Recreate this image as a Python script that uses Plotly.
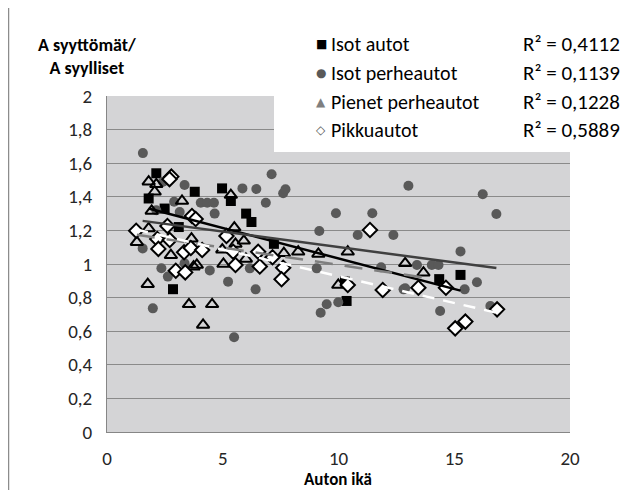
import plotly.graph_objects as go

# ---------------- data ----------------
series_names = ["Isot autot", "Isot perheautot", "Pienet perheautot", "Pikkuautot"]
r2_labels = ["R² = 0,4112", "R² = 0,1139", "R² = 0,1228", "R² = 0,5889"]

isot_autot_x = [2.13, 1.80, 3.79, 4.97, 5.35, 6.01, 6.24, 2.49, 3.10, 2.85, 7.21, 10.35, 10.28, 14.35, 15.27]
isot_autot_y = [1.54, 1.39, 1.43, 1.45, 1.375, 1.30, 1.25, 1.33, 1.22, 0.85, 1.12, 0.78, 0.895, 0.91, 0.935]

isot_perhe_x = [1.55, 2.42, 3.35, 5.85, 6.45, 2.90, 4.05, 4.33, 4.62, 4.65, 2.13, 3.14, 1.54, 2.35, 2.63,
                4.44, 5.23, 3.35, 1.98, 5.49, 6.42, 6.17, 7.11, 7.61, 7.71, 6.86, 9.89, 11.46, 9.17, 10.83,
                12.37, 13.02, 9.06, 11.84, 12.81, 9.49, 9.99, 9.23, 16.23, 16.82, 15.27, 13.39, 14.03, 14.32,
                12.88, 15.98, 15.45, 14.39, 16.56]
isot_perhe_y = [1.66, 1.49, 1.47, 1.45, 1.446, 1.371, 1.365, 1.365, 1.365, 1.30, 1.32, 1.31, 1.093, 0.975, 0.925,
                0.962, 0.895, 1.004, 0.736, 0.564, 0.849, 0.974, 1.534, 1.421, 1.445, 1.365, 1.302, 1.302, 1.196, 1.173,
                1.173, 1.466, 0.974, 0.98, 0.849, 0.76, 0.772, 0.71, 1.415, 1.298, 1.075, 0.994, 0.994, 0.994,
                0.855, 0.891, 0.849, 0.72, 0.75]

pienet_x = [1.80, 2.13, 2.06, 3.24, 5.35, 1.93, 5.50, 1.80, 1.29, 3.65, 2.76, 5.91, 5.55, 4.98, 6.0,
            5.03, 3.88, 3.74, 1.76, 3.54, 4.54, 4.15, 7.64, 8.26, 9.13, 10.40, 12.88, 9.99, 13.67]
pienet_y = [1.49, 1.474, 1.43, 1.375, 1.41, 1.316, 1.217, 1.212, 1.13, 1.151, 1.052, 1.138, 1.119, 1.085, 1.03,
            1.0, 0.994, 0.984, 0.88, 0.76, 0.76, 0.637, 1.064, 1.073, 1.06, 1.073, 1.004, 0.875, 0.948]

pikku_x = [2.78, 2.70, 3.67, 3.83, 2.61, 1.26, 2.17, 2.71, 2.22, 5.16, 3.33, 3.62, 4.11, 2.97, 3.38,
           5.45, 5.55, 6.53, 6.6, 7.15, 7.61, 7.54, 10.40, 11.91, 11.36, 13.45, 14.64, 16.85, 15.48, 15.04]
pikku_y = [1.52, 1.505, 1.286, 1.268, 1.226, 1.198, 1.149, 1.143, 1.09, 1.167, 1.07, 1.095, 1.083, 0.96, 0.95,
           1.073, 0.994, 1.073, 0.985, 1.04, 0.978, 0.909, 0.875, 0.845, 1.202, 0.859, 0.859, 0.73, 0.657, 0.617]

# linear trendlines: intercept, slope, x-extent
trend_intercepts = [1.396, 1.285, 1.200, 1.245]
trend_slopes = [-0.0363, -0.0184, -0.0205, -0.0318]
trend_x_start = [1.80, 1.54, 1.29, 1.26]
trend_x_end = [15.27, 16.82, 13.67, 16.85]

x_tick_vals = [0, 5, 10, 15, 20]
x_tick_text = ["0", "5", "10", "15", "20"]
y_tick_vals = [0, 0.2, 0.4, 0.6, 0.8, 1.0, 1.2, 1.4, 1.6, 1.8, 2.0]
y_tick_text = ["0", "0,2", "0,4", "0,6", "0,8", "1", "1,2", "1,4", "1,6", "1,8", "2"]

# ---------------- figure ----------------
FONT = "Carlito, Lato, sans-serif"
OFF = 8  # page body margin of the html page
W, H = 629 - OFF, 490 - OFF
ML, MR, MT, MB = 107 - OFF, 59, 96 - OFF, 58
PW, PH = W - ML - MR, H - MT - MB


def px_x(p):
    # p: pixel x position in the final (page) picture
    return (p - OFF - ML) / PW


def px_y(p):
    return (H - MB - (p - OFF)) / PH


fig = go.Figure()

fig.add_trace(go.Scatter(x=isot_autot_x, y=isot_autot_y, mode="markers", name=series_names[0],
                         marker=dict(symbol="square", size=10, color="#000000", line=dict(width=0))))
fig.add_trace(go.Scatter(x=isot_perhe_x, y=isot_perhe_y, mode="markers", name=series_names[1],
                         marker=dict(symbol="circle", size=10, color="#595959", line=dict(width=0))))
fig.add_trace(go.Scatter(x=pienet_x, y=pienet_y, mode="markers", name=series_names[2],
                         marker=dict(symbol="triangle-up-open", size=11, color="#000000", line=dict(width=2))))
fig.add_trace(go.Scatter(x=pikku_x, y=pikku_y, mode="markers", name=series_names[3],
                         marker=dict(symbol="diamond", size=11, color="#ffffff",
                                     line=dict(width=2, color="#000000"))))

trend_styles = [
    dict(color="#000000", width=2.5, dash="solid"),
    dict(color="#404040", width=2.5, dash="solid"),
    dict(color="#7f7f7f", width=2.5, dash="18px,12px"),
    dict(color="#ffffff", width=2.5, dash="12px,9px"),
]
for i in range(4):
    xs = [trend_x_start[i], trend_x_end[i]]
    ys = [trend_intercepts[i] + trend_slopes[i] * v for v in xs]
    fig.add_trace(go.Scatter(x=xs, y=ys, mode="lines", line=trend_styles[i],
                             showlegend=False, hoverinfo="skip"))

shapes = [
    # white legend box covering upper right part of the plot area
    dict(type="rect", xref="paper", yref="paper", x0=px_x(274), x1=1.0, y0=px_y(152), y1=1.0,
         fillcolor="#ffffff", line=dict(width=0), layer="above"),
    # outer chart frame (left edge)
    dict(type="line", xref="paper", yref="paper", x0=px_x(8), x1=px_x(8), y0=px_y(500), y1=px_y(0),
         line=dict(color="#8c8c8c", width=2.5)),
]

annotations = [
    dict(text="<b>A syyttömät/</b><br><b>A syylliset</b>", xref="paper", yref="paper",
         x=px_x(87), y=px_y(57), xanchor="center", yanchor="middle", showarrow=False,
         font=dict(family=FONT, size=18, color="#000000"), align="center"),
    dict(text="<b>Auton ikä</b>", xref="paper", yref="paper", x=px_x(338), y=px_y(479),
         xanchor="center", yanchor="middle", showarrow=False,
         font=dict(family=FONT, size=17, color="#000000")),
]

legend_rows = [44, 73, 102, 130]
legend_glyphs = ["■", "●", "▲", "◇"]
legend_glyph_colors = ["#000000", "#595959", "#7f7f7f", "#595959"]
for i in range(4):
    annotations.append(dict(text=legend_glyphs[i], xref="paper", yref="paper", x=px_x(321), y=px_y(legend_rows[i]),
                            xanchor="center", yanchor="middle", showarrow=False,
                            font=dict(family="DejaVu Sans", size=12, color=legend_glyph_colors[i])))
    annotations.append(dict(text=series_names[i], xref="paper", yref="paper", x=px_x(329), y=px_y(legend_rows[i]),
                            xanchor="left", yanchor="middle", showarrow=False,
                            font=dict(family=FONT, size=20, color="#000000")))
    annotations.append(dict(text=r2_labels[i], xref="paper", yref="paper", x=px_x(521), y=px_y(legend_rows[i]),
                            xanchor="left", yanchor="middle", showarrow=False,
                            font=dict(family=FONT, size=21, color="#000000")))

fig.update_layout(
    width=W, height=H, autosize=False,
    margin=dict(l=ML, r=MR, t=MT, b=MB, pad=0),
    paper_bgcolor="#ffffff", plot_bgcolor="#d4d4d6",
    showlegend=False,
    shapes=shapes, annotations=annotations,
    font=dict(family=FONT, size=19, color="#262626"),
)
fig.update_xaxes(range=[0, 20], tickvals=x_tick_vals, ticktext=x_tick_text, showgrid=False, zeroline=False,
                 showline=True, linecolor="#868686", linewidth=1, ticks="", ticklabelstandoff=9,
                 tickfont=dict(family=FONT, size=19, color="#262626"))
fig.update_yaxes(range=[0, 2], tickvals=y_tick_vals, ticktext=y_tick_text, showgrid=True, gridcolor="#8a8a8a",
                 gridwidth=1, zeroline=False, showline=True, linecolor="#868686", linewidth=1, ticks="",
                 ticklabelstandoff=10, tickfont=dict(family=FONT, size=19, color="#262626"))

fig.write_html("out.html")
